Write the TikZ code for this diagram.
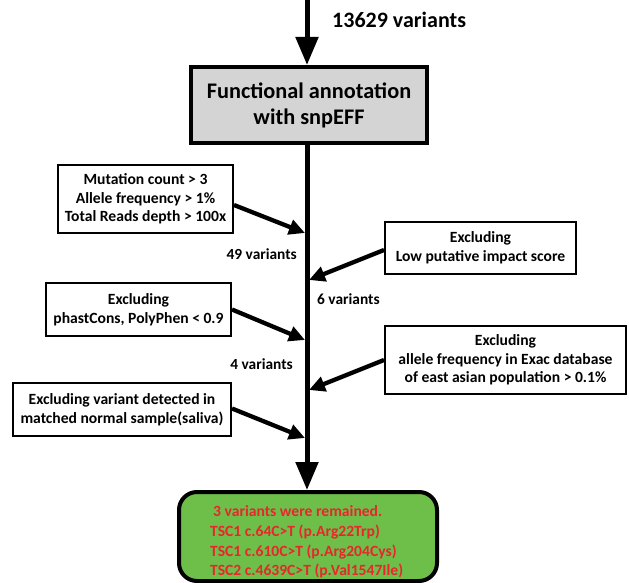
\documentclass[tikz,border=0pt]{standalone}
\usepackage{fontspec}
\setmainfont{Carlito}
\usetikzlibrary{arrows.meta,calc}
\definecolor{boxgray}{HTML}{D4D4D4}
\definecolor{boxgreen}{HTML}{6EBE4A}
\definecolor{txtred}{HTML}{E8262B}
\begin{document}
\begin{tikzpicture}[x=1pt,y=-1pt,
  fbox/.style={draw,line width=2pt,fill=white,inner sep=0pt,align=center,
    font=\fontsize{15.6}{18.7}\selectfont\bfseries},
  lbl/.style={inner sep=0pt,font=\fontsize{15.4}{18}\selectfont\bfseries},
  conn/.style={line width=4.3pt,-{Triangle[length=16pt,width=15pt]}},
  mainarrow/.style={line width=5pt,-{Triangle[length=28pt,width=22pt]}}]
\useasboundingbox (0,0) rectangle (629,583);
\coordinate (top) at (307,0);
% gray box
\node[draw,line width=4pt,fill=boxgray,minimum width=236pt,minimum height=76pt,inner sep=0pt,align=center,
  font=\fontsize{22.3}{26}\selectfont\bfseries] (gray) at (309,105) {Functional annotation\\with snpEFF};
\node[lbl,anchor=west,font=\fontsize{22}{24}\selectfont\bfseries] (n0) at (332,20) {13629 variants};
% green box
\node[draw,line width=4pt,fill=boxgreen,rounded corners=18pt,minimum width=258pt,minimum height=89pt] (green) at (308,536.5) {};
\node[inner sep=0pt,anchor=west,align=left,text=txtred,font=\fontsize{15.6}{19.7}\selectfont\bfseries] (res) at (210,542)
  {\hspace*{3pt}3 variants were remained.\\TSC1 c.64C>T (p.Arg22Trp)\\TSC1 c.610C>T (p.Arg204Cys)\\TSC2 c.4639C>T (p.Val1547Ile)};
% main arrows
\draw[mainarrow] (top) -- (top|-gray.north);
\draw[mainarrow] (top|-gray.south) -- (top|-green.north);
% filter boxes
\node[fbox,minimum width=175pt,minimum height=68pt] (b1) at (145.5,199) {Mutation count > 3\\Allele frequency > 1\%\\Total Reads depth > 100x};
\node[fbox,minimum width=185pt,minimum height=53pt] (b2) at (138.5,309.5) {Excluding\\phastCons, PolyPhen < 0.9};
\node[fbox,minimum width=191pt,minimum height=52pt] (r1) at (480.5,248) {Excluding\\Low putative impact score};
\node[fbox,minimum width=241pt,minimum height=68pt] (r2) at (505.5,360) {Excluding\\allele frequency in Exac database\\of east asian population > 0.1\%};
\node[fbox,minimum width=218pt,minimum height=53pt] (b4) at (122,409.5) {Excluding variant detected in\\matched normal sample(saliva)};
% targets on main line
\coordinate (t1) at (305,233);
\coordinate (t2) at (305,340);
\coordinate (t3) at (309,280);
\coordinate (t4) at (309,390);
\coordinate (t5) at (305,438);
\draw[conn] ($(b1.east)+(0,6)$) -- (t1);
\draw[conn] (b2.east) -- (t2);
\draw[conn] ($(r1.west)+(0,2)$) -- (t3);
\draw[conn] (r2.west) -- (t4);
\draw[conn] ($(b4.east)+(0,-1)$) -- (t5);
% counts
\node[lbl,anchor=east] (c49) at (297,254) {49 variants};
\node[lbl,anchor=west] (c6) at (317,299) {6 variants};
\node[lbl,anchor=east] (c4) at (293,364) {4 variants};
\end{tikzpicture}
\end{document}
